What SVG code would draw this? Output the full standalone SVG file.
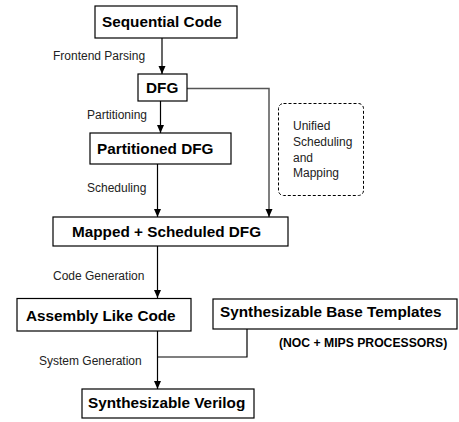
<svg xmlns="http://www.w3.org/2000/svg" width="459" height="422" viewBox="0 0 459 422">
<style>
.box{fill:#fff;stroke:#000;stroke-width:1.2}
.t{font-family:"Liberation Sans",Arial,sans-serif;font-weight:bold;font-size:15.3px;fill:#000}
.l{font-family:"Liberation Sans",Arial,sans-serif;font-size:12px;fill:#222}
.c{fill:none;stroke:#000;stroke-width:1.2}
.g{fill:none;stroke:#555;stroke-width:1.5}
</style>
<defs>
<marker id="ah" markerUnits="userSpaceOnUse" markerWidth="8" markerHeight="10" refX="8" refY="3.5" orient="auto" viewBox="0 0 8 7">
<path d="M0,0 L8,3.5 L0,7 z" fill="#000"/>
</marker>
</defs>
<rect width="459" height="422" fill="#fff"/>
<g id="connectors">
<line class="c" x1="162" y1="38" x2="162" y2="74" marker-end="url(#ah)"/>
<line class="c" x1="160.5" y1="101" x2="160.5" y2="133" marker-end="url(#ah)"/>
<line class="c" x1="157.5" y1="164" x2="157.5" y2="217" marker-end="url(#ah)"/>
<polyline class="g" points="187,88.5 269,88.5 269,217" marker-end="url(#ah)"/>
<line class="c" x1="157.5" y1="246" x2="157.5" y2="298" marker-end="url(#ah)"/>
<line class="c" x1="157.5" y1="331" x2="157.5" y2="389" marker-end="url(#ah)"/>
<polyline class="c" points="247,329 247,357 157.5,357"/>
<text class="l" x="53" y="60">Frontend Parsing</text>
<text class="l" x="87" y="119">Partitioning</text>
<text class="l" x="87" y="192">Scheduling</text>
<text class="l" x="53" y="280">Code Generation</text>
<text class="l" x="39" y="365">System Generation</text>
</g>
<g id="sequential-code">
<rect class="box" x="95" y="6" width="142" height="32"/>
<text class="t" x="102" y="27">Sequential Code</text>
</g>
<g id="dfg">
<rect class="box" x="138" y="74" width="49" height="27"/>
<text class="t" x="146" y="93">DFG</text>
</g>
<g id="unified">
<rect x="278.5" y="103.5" width="85" height="92" rx="5" ry="5" fill="none" stroke="#000" stroke-width="1" stroke-dasharray="3,2"/>
<text class="l" x="293" y="130">Unified</text>
<text class="l" x="293" y="146">Scheduling</text>
<text class="l" x="293" y="161.5">and</text>
<text class="l" x="293" y="177">Mapping</text>
</g>
<g id="partitioned-dfg">
<rect class="box" x="90" y="133" width="141" height="31"/>
<text class="t" x="97" y="154">Partitioned DFG</text>
</g>
<g id="mapped">
<rect class="box" x="53" y="217" width="235" height="29"/>
<text class="t" x="72" y="237">Mapped + Scheduled DFG</text>
</g>
<g id="assembly">
<rect class="box" x="17" y="298.5" width="174" height="32.5"/>
<text class="t" x="26" y="321">Assembly Like Code</text>
</g>
<g id="templates">
<rect class="box" x="213" y="299" width="244" height="30"/>
<text class="t" x="220" y="317">Synthesizable Base Templates</text>
<text class="t" x="279" y="347" style="font-size:12.2px">(NOC + MIPS PROCESSORS)</text>
</g>
<g id="verilog">
<rect class="box" x="82" y="389" width="172" height="29"/>
<text class="t" x="88" y="408">Synthesizable Verilog</text>
</g>
</svg>
